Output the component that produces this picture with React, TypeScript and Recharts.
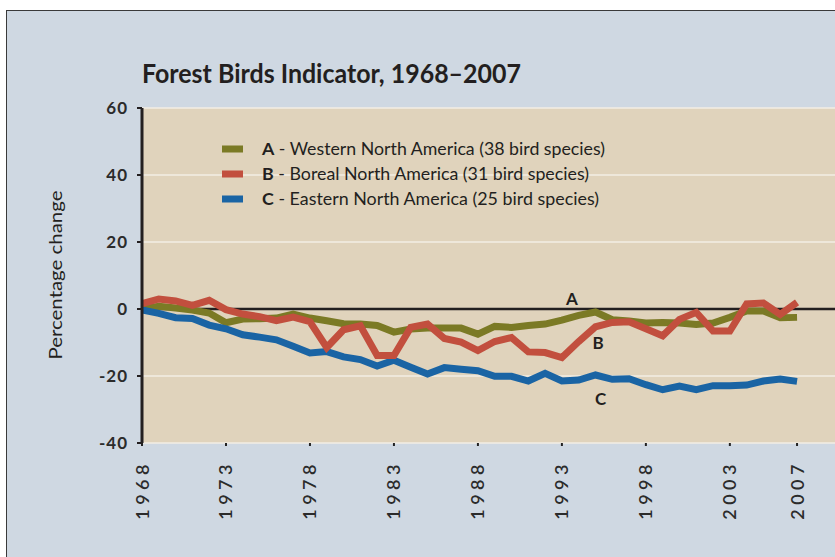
import React from 'react';
import { LineChart, Line, XAxis, YAxis, CartesianGrid, ReferenceLine, ReferenceDot } from 'recharts';

const years = [
  1968, 1969, 1970, 1971, 1972, 1973, 1974, 1975, 1976, 1977,
  1978, 1979, 1980, 1981, 1982, 1983, 1984, 1985, 1986, 1987,
  1988, 1989, 1990, 1991, 1992, 1993, 1994, 1995, 1996, 1997,
  1998, 1999, 2000, 2001, 2002, 2003, 2004, 2005, 2006, 2007,
];

const western = [
  0.1, 0.8, 0.3, -0.3, -1.2, -4.1, -3.0, -2.9, -2.7, -1.5,
  -2.7, -3.5, -4.4, -4.5, -4.9, -6.9, -6.0, -5.7, -5.7, -5.7,
  -7.5, -5.2, -5.5, -4.9, -4.5, -3.3, -1.9, -0.9, -3.2, -3.6,
  -4.2, -4.0, -4.2, -4.6, -4.2, -2.5, -0.6, -0.6, -2.6, -2.5,
];

const boreal = [
  1.6, 3.0, 2.4, 1.1, 2.6, -0.2, -1.5, -2.3, -3.5, -2.4,
  -3.8, -11.5, -6.2, -5.0, -13.9, -13.9, -5.5, -4.5, -8.8, -9.9,
  -12.4, -9.7, -8.5, -12.8, -13.0, -14.5, -9.7, -5.3, -4.0, -3.8,
  -5.9, -8.0, -3.1, -1.0, -6.6, -6.6, 1.5, 1.8, -1.6, 2.0,
];

const eastern = [
  -0.3, -1.3, -2.6, -2.8, -4.8, -5.9, -7.7, -8.4, -9.2, -11.1,
  -13.1, -12.7, -14.3, -15.1, -17.0, -15.3, -17.4, -19.4, -17.5, -18.0,
  -18.4, -20.1, -20.1, -21.5, -19.2, -21.5, -21.2, -19.7, -21.0, -20.8,
  -22.6, -24.1, -23.0, -24.1, -22.9, -22.9, -22.7, -21.5, -20.9, -21.6,
];

const xTicks = [1968, 1973, 1978, 1983, 1988, 1993, 1998, 2003, 2007];
const yTicks = [-40, -20, 0, 20, 40, 60];

const seriesInfo = [
  { key: 'A', letter: 'A', text: ' - Western North America (38 bird species)', color: '#7b7a25', len: 343 },
  { key: 'B', letter: 'B', text: ' - Boreal North America (31 bird species)', color: '#c24f3e', len: 327 },
  { key: 'C', letter: 'C', text: ' - Eastern North America (25 bird species)', color: '#1a64a4', len: 337 },
];

// draw order: A, C, B (B on top)
const drawOrder = ['A', 'C', 'B'];

const annotations = [
  { label: 'A', year: 1993.6, value: 3.1 },
  { label: 'B', year: 1995.15, value: -10.1 },
  { label: 'C', year: 1995.3, value: -26.8 },
];

const data = years.map((y, i) => ({ year: y, A: western[i], B: boreal[i], C: eastern[i] }));

const FONT = "Lato, 'Open Sans', sans-serif";
const INK = '#231f20';

const XTick = (props: any) => {
  const { x, y, payload } = props;
  return (
    <text
      transform={`translate(${x + 6.5},${y + 12}) rotate(-90)`}
      textAnchor="end"
      fontFamily={FONT}
      fontSize={18}
      fontWeight={600}
      letterSpacing={4.5}
      fill="#2b2b2b"
    >
      {payload.value}
    </text>
  );
};

export default function App() {
  return (
    <div style={{ position: 'absolute', left: 0, top: 0, width: 835, height: 557, overflow: 'hidden', background: '#ffffff' }}>
      <div
        style={{
          position: 'absolute',
          left: 6,
          top: 10,
          width: 850,
          height: 570,
          background: '#cfd8e2',
          borderTop: '1.5px solid #3a3a3a',
          borderLeft: '1.5px solid #3a3a3a',
        }}
      />
      <div style={{ position: 'absolute', left: 0, top: 0 }}>
        <LineChart width={835} height={557} data={data} margin={{ top: 108, right: 0, bottom: 54, left: 82 }}>
          <CartesianGrid
            vertical={false}
            stroke="#f3eee4"
            strokeWidth={1.5}
            fill="#e0d3bc"
            fillOpacity={1}
          />
          <XAxis
            type="number"
            dataKey="year"
            domain={[1968, 2009.26]}
            allowDataOverflow
            ticks={xTicks}
            interval={0}
            axisLine={false}
            tickLine={{ stroke: '#222', strokeWidth: 2 }}
            tickSize={3}
            height={60}
            tick={<XTick />}
          />
          <YAxis
            type="number"
            domain={[-40, 60]}
            ticks={yTicks}
            interval={0}
            width={60}
            axisLine={{ stroke: INK, strokeWidth: 3 }}
            tickLine={{ stroke: INK, strokeWidth: 2 }}
            tickSize={5}
            tickMargin={9}
            tick={{ fill: '#2b2b2b', fontSize: 17, fontWeight: 700, fontFamily: FONT, letterSpacing: 1 }}
          />
          <ReferenceLine y={0} stroke={INK} strokeWidth={2.5} />
          {drawOrder.map((k) => {
            const s = seriesInfo.find((d) => d.key === k)!;
            return (
              <Line
                key={k}
                type="linear"
                dataKey={k}
                stroke={s.color}
                strokeWidth={7}
                strokeLinejoin="miter"
                dot={false}
                activeDot={false}
                isAnimationActive={false}
              />
            );
          })}
          {annotations.map((a) => (
            <ReferenceDot
              key={a.label}
              x={a.year}
              y={a.value}
              r={0}
              fill="none"
              stroke="none"
              label={{ value: a.label, position: 'center', fill: INK, fontSize: 17, fontWeight: 700, fontFamily: FONT }}
            />
          ))}
        </LineChart>
      </div>
      <svg width={835} height={557} style={{ position: 'absolute', left: 0, top: 0, pointerEvents: 'none' }}>
        <text
          x={142}
          y={83}
          fontFamily={FONT}
          fontWeight={700}
          fontSize={27}
          textLength={379}
          lengthAdjust="spacingAndGlyphs"
          fill={INK}
        >
          Forest Birds Indicator, 1968–2007
        </text>
        <text
          transform="translate(62,275) rotate(-90)"
          textAnchor="middle"
          fontFamily={FONT}
          fontSize={18}
          textLength={169}
          lengthAdjust="spacingAndGlyphs"
          fill={INK}
        >
          Percentage change
        </text>
        {seriesInfo.map((s, i) => (
          <g key={s.key}>
            <rect x={222} y={149 + 25 * i - 3.5} width={21} height={7} fill={s.color} />
            <text
              x={262}
              y={149 + 25 * i + 6}
              fontFamily={FONT}
              fontSize={17}
              fill={INK}
              textLength={s.len}
              lengthAdjust="spacingAndGlyphs"
            >
              <tspan fontWeight={700}>{s.letter}</tspan>
              <tspan>{s.text}</tspan>
            </text>
          </g>
        ))}
      </svg>
    </div>
  );
}
